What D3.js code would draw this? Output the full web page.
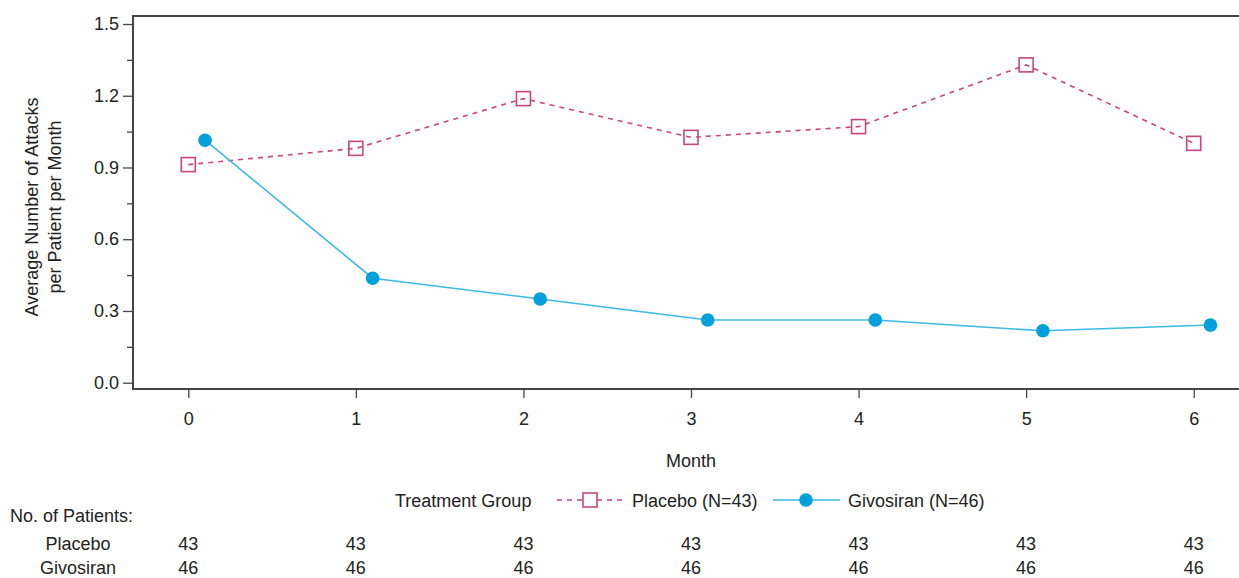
<!DOCTYPE html>
<html>
<head>
<meta charset="utf-8">
<script src="https://cdn.jsdelivr.net/npm/d3@7"></script>
<style>
  html, body { margin: 0; padding: 0; background: #fff; }
  svg { display: block; font-family: "Liberation Sans", Arial, sans-serif; }
</style>
</head>
<body>
<svg id="chart" width="1239" height="578"></svg>
<script>
// Monthly attack rates by treatment group
const months = [0, 1, 2, 3, 4, 5, 6];
const placeboRate = [0.912, 0.980, 1.188, 1.026, 1.071, 1.329, 1.001];
const givosiranRate = [1.014, 0.437, 0.350, 0.262, 0.262, 0.217, 0.241];
const givosiranOffset = 0.1; // slight horizontal dodge so markers do not overlap
const yTicks = [0.0, 0.3, 0.6, 0.9, 1.2, 1.5];
const yMinorTicks = [0.15, 0.45, 0.75, 1.05, 1.35];
const riskGroups = ["Placebo", "Givosiran"];
const placeboAtRisk = [43, 43, 43, 43, 43, 43, 43];
const givosiranAtRisk = [46, 46, 46, 46, 46, 46, 46];

const placeboColor = "#c8457f";
const givoMarker = "#00a0dc";
const givoLine = "#3cb9e8";
const textColor = "#222";
const axisColor = "#444";
const fs = 18;

const svg = d3.select("#chart");

const x = d3.scaleLinear().domain([0, 6]).range([188.3, 1193.7]);
const y = d3.scaleLinear().domain([0, 1.5]).range([382.7, 24]);

const frameLeft = 133, frameTop = 16, frameBottom = 389, frameRight = 1240;

// Frame (right edge falls off the canvas)
svg.append("path")
  .attr("d", `M${frameRight},${frameTop}H${frameLeft}V${frameBottom}H${frameRight}`)
  .attr("fill", "none").attr("stroke", axisColor).attr("stroke-width", 2);

// Y axis
const yAxis = svg.append("g").attr("transform", `translate(${frameLeft},0)`)
  .call(d3.axisLeft(y).tickValues(yTicks).tickFormat(d3.format(".1f")).tickSize(10).tickPadding(4));
yAxis.select(".domain").remove();
yAxis.selectAll(".tick line").attr("stroke", axisColor).attr("stroke-width", 1.3);
yAxis.selectAll(".tick text").attr("font-size", fs).attr("fill", textColor)
  .attr("font-family", "Liberation Sans, Arial, sans-serif");

const yMinor = svg.append("g").attr("transform", `translate(${frameLeft},0)`)
  .call(d3.axisLeft(y).tickValues(yMinorTicks).tickFormat("").tickSize(6));
yMinor.select(".domain").remove();
yMinor.selectAll(".tick line").attr("stroke", axisColor).attr("stroke-width", 1.3);

// X axis
const xAxis = svg.append("g").attr("transform", `translate(0,${frameBottom})`)
  .call(d3.axisBottom(x).tickValues(months).tickFormat(d3.format("d")).tickSize(9).tickPadding(14));
xAxis.select(".domain").remove();
xAxis.selectAll(".tick line").attr("stroke", axisColor).attr("stroke-width", 1.3);
xAxis.selectAll(".tick text").attr("font-size", fs).attr("fill", textColor)
  .attr("font-family", "Liberation Sans, Arial, sans-serif");

// Axis titles
svg.append("text").attr("x", 691).attr("y", 467).attr("text-anchor", "middle")
  .attr("font-size", fs).attr("fill", textColor).text("Month");

const yTitle = svg.append("text")
  .attr("transform", "translate(0,207) rotate(-90)")
  .attr("text-anchor", "middle").attr("font-size", fs).attr("fill", textColor);
yTitle.append("tspan").attr("x", 0).attr("y", 38).text("Average Number of Attacks");
yTitle.append("tspan").attr("x", 0).attr("y", 61).text("per Patient per Month");

// Series
const placeboData = months.map((m, i) => ({ m, v: placeboRate[i] }));
const givoData = months.map((m, i) => ({ m: m + givosiranOffset, v: givosiranRate[i] }));
const line = d3.line().x(d => x(d.m)).y(d => y(d.v));

svg.append("path").datum(placeboData).attr("d", line)
  .attr("fill", "none").attr("stroke", placeboColor).attr("stroke-width", 1.6)
  .attr("stroke-dasharray", "5,5");

svg.append("path").datum(givoData).attr("d", line)
  .attr("fill", "none").attr("stroke", givoLine).attr("stroke-width", 1.6);

const sq = 14;
svg.append("g").selectAll("rect").data(placeboData).join("rect")
  .attr("x", d => x(d.m) - sq / 2).attr("y", d => y(d.v) - sq / 2)
  .attr("width", sq).attr("height", sq)
  .attr("fill", "none").attr("stroke", placeboColor).attr("stroke-width", 1.6);

svg.append("g").selectAll("circle").data(givoData).join("circle")
  .attr("cx", d => x(d.m)).attr("cy", d => y(d.v)).attr("r", 6.8)
  .attr("fill", givoMarker);

// Legend
const legY = 500;
svg.append("text").attr("x", 395).attr("y", legY + 6.5).attr("font-size", fs)
  .attr("fill", textColor).text("Treatment Group");
svg.append("line").attr("x1", 557).attr("x2", 623).attr("y1", legY).attr("y2", legY)
  .attr("stroke", placeboColor).attr("stroke-width", 1.6).attr("stroke-dasharray", "5,5");
svg.append("rect").attr("x", 590 - sq / 2).attr("y", legY - sq / 2).attr("width", sq).attr("height", sq)
  .attr("fill", "#fff").attr("stroke", placeboColor).attr("stroke-width", 1.6);
svg.append("text").attr("x", 632).attr("y", legY + 6.5).attr("font-size", fs)
  .attr("fill", textColor).text("Placebo (N=43)");
svg.append("line").attr("x1", 773).attr("x2", 840).attr("y1", legY).attr("y2", legY)
  .attr("stroke", givoLine).attr("stroke-width", 1.6);
svg.append("circle").attr("cx", 806).attr("cy", legY).attr("r", 6.8).attr("fill", givoMarker);
svg.append("text").attr("x", 848).attr("y", legY + 6.5).attr("font-size", fs)
  .attr("fill", textColor).text("Givosiran (N=46)");

// Number at risk table
svg.append("text").attr("x", 10).attr("y", 521.5).attr("font-size", fs)
  .attr("fill", textColor).text("No. of Patients:");
const rowY = [550, 574];
const atRisk = [placeboAtRisk, givosiranAtRisk];
riskGroups.forEach((g, r) => {
  svg.append("text").attr("x", 78).attr("y", rowY[r]).attr("text-anchor", "middle")
    .attr("font-size", fs).attr("fill", textColor).text(g);
  svg.append("g").selectAll("text").data(months).join("text")
    .attr("x", d => x(d)).attr("y", rowY[r]).attr("text-anchor", "middle")
    .attr("font-size", fs).attr("fill", textColor).text((d, i) => atRisk[r][i]);
});
</script>
</body>
</html>
